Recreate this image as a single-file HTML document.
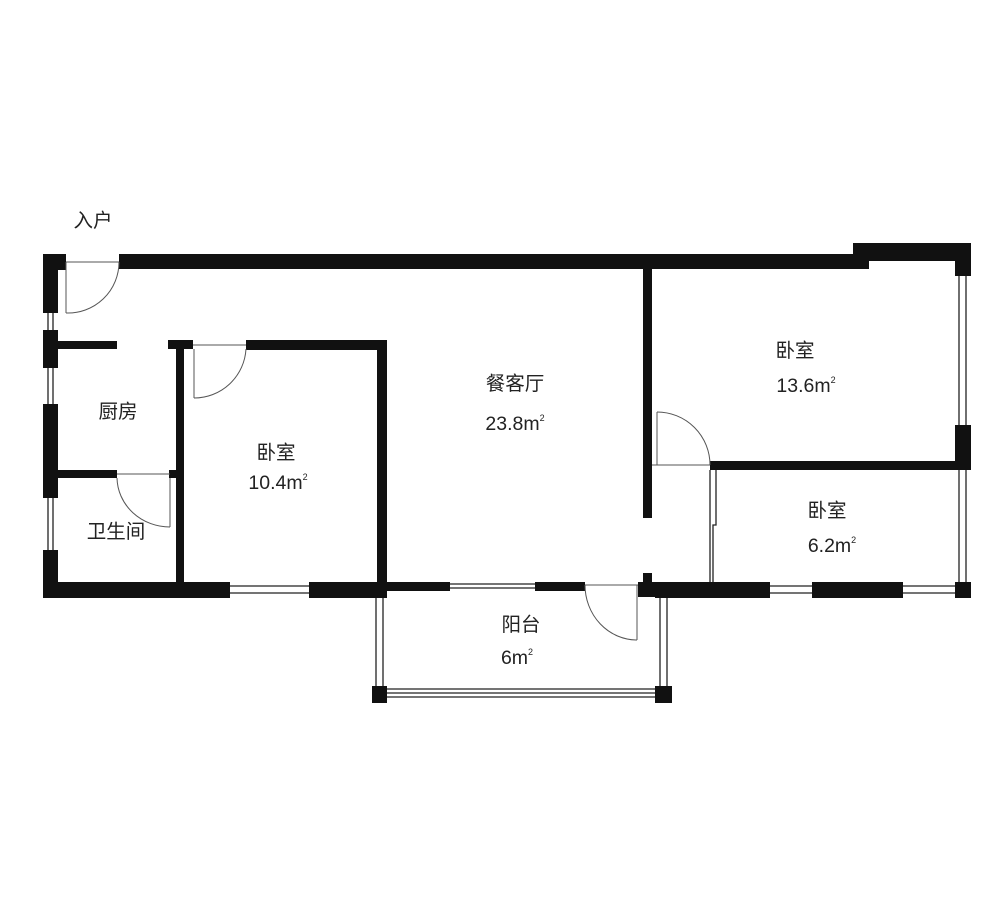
<!DOCTYPE html>
<html><head><meta charset="utf-8"><style>
html,body{margin:0;padding:0;background:#fff;width:1000px;height:911px;overflow:hidden}
svg{display:block}
text{font-family:"Liberation Sans","Noto Sans CJK SC",sans-serif;font-size:19.5px;fill:#222;text-anchor:middle}
tspan.s{font-size:9px}
</style></head><body>
<svg width="1000" height="911" viewBox="0 0 1000 911">
<g fill="#111">
<rect x="119" y="254" width="750" height="15"/>
<rect x="853" y="243" width="118" height="18"/>
<rect x="853" y="243" width="16" height="26"/>
<rect x="43" y="254" width="23" height="16"/>
<rect x="43" y="254" width="15" height="59"/>
<rect x="43" y="330" width="15" height="38"/>
<rect x="43" y="404" width="15" height="94"/>
<rect x="43" y="550" width="15" height="48"/>
<rect x="43" y="582" width="187" height="16"/>
<rect x="309" y="582" width="78" height="16"/>
<rect x="58" y="341" width="59" height="8"/>
<rect x="58" y="470" width="59" height="8"/>
<rect x="169" y="470" width="9" height="8"/>
<rect x="176" y="341" width="8" height="256"/>
<rect x="168" y="340" width="25" height="9"/>
<rect x="246" y="340" width="140" height="10"/>
<rect x="377" y="340" width="10" height="257"/>
<rect x="386" y="582" width="64" height="9"/>
<rect x="535" y="582" width="50" height="9"/>
<rect x="638" y="582" width="17" height="15"/>
<rect x="643" y="573" width="9" height="10"/>
<rect x="655" y="582" width="115" height="16"/>
<rect x="812" y="582" width="91" height="16"/>
<rect x="955" y="582" width="16" height="16"/>
<rect x="643" y="262" width="9" height="256"/>
<rect x="710" y="461" width="260" height="9"/>
<rect x="955" y="425" width="16" height="45"/>
<rect x="955" y="243" width="16" height="33"/>
<rect x="372" y="686" width="15" height="17"/>
<rect x="655" y="686" width="17" height="17"/>
<rect x="373" y="590" width="13" height="8"/>
</g>
<g stroke="#222" fill="none" stroke-width="1.3">
<line x1="48" y1="313" x2="48" y2="330"/><line x1="53" y1="313" x2="53" y2="330"/>
<line x1="48" y1="368" x2="48" y2="404"/><line x1="53" y1="368" x2="53" y2="404"/>
<line x1="48" y1="498" x2="48" y2="550"/><line x1="53" y1="498" x2="53" y2="550"/>
<line x1="230" y1="586" x2="309" y2="586"/><line x1="230" y1="593" x2="309" y2="593"/>
<line x1="450" y1="584" x2="535" y2="584"/><line x1="450" y1="588" x2="535" y2="588"/>
<line x1="770" y1="586" x2="812" y2="586"/><line x1="770" y1="593" x2="812" y2="593"/>
<line x1="903" y1="586" x2="955" y2="586"/><line x1="903" y1="593" x2="955" y2="593"/>
<line x1="959" y1="276" x2="959" y2="425"/><line x1="966" y1="276" x2="966" y2="425"/>
<line x1="959" y1="470" x2="959" y2="582"/><line x1="966" y1="470" x2="966" y2="582"/>
<line x1="376" y1="598" x2="376" y2="686"/><line x1="383" y1="598" x2="383" y2="686"/>
<line x1="660" y1="598" x2="660" y2="686"/><line x1="667" y1="598" x2="667" y2="686"/>
<line x1="387" y1="689" x2="655" y2="689"/><line x1="387" y1="693" x2="655" y2="693"/><line x1="387" y1="697" x2="655" y2="697"/>
<polyline points="710,470 710,582"/><polyline points="716,470 716,525 713,525 713,582"/>
</g>
<g stroke="#555" fill="none" stroke-width="1">
<line x1="66" y1="262" x2="119" y2="262"/>
<line x1="66" y1="262" x2="66" y2="313"/>
<path d="M66,313 A51,51 0 0 0 119,262"/>
<line x1="193" y1="345" x2="246" y2="345"/>
<line x1="194" y1="349" x2="194" y2="398"/>
<path d="M194,398 A52,52 0 0 0 246,349"/>
<line x1="117" y1="474" x2="170" y2="474"/>
<line x1="170" y1="478" x2="170" y2="527"/>
<path d="M117,478 A53,50 0 0 0 170,527"/>
<line x1="585" y1="585" x2="638" y2="585"/>
<line x1="637" y1="585" x2="637" y2="640"/>
<path d="M585,585 A52,55 0 0 0 637,640"/>
<line x1="652" y1="465" x2="710" y2="465"/>
<line x1="657" y1="412" x2="657" y2="465"/>
<path d="M657,412 A53,53 0 0 1 710,465"/>
</g>
<text x="93" y="227">入户</text>
<text x="118" y="418">厨房</text>
<text x="116" y="538">卫生间</text>
<text x="276" y="459">卧室</text>
<text x="278" y="489">10.4m<tspan class="s" dy="-9">2</tspan></text>
<text x="515" y="390">餐客厅</text>
<text x="515" y="430">23.8m<tspan class="s" dy="-9">2</tspan></text>
<text x="795" y="357">卧室</text>
<text x="806" y="392">13.6m<tspan class="s" dy="-9">2</tspan></text>
<text x="827" y="517">卧室</text>
<text x="832" y="552">6.2m<tspan class="s" dy="-9">2</tspan></text>
<text x="521" y="631">阳台</text>
<text x="517" y="664">6m<tspan class="s" dy="-9">2</tspan></text>
</svg>
</body></html>
